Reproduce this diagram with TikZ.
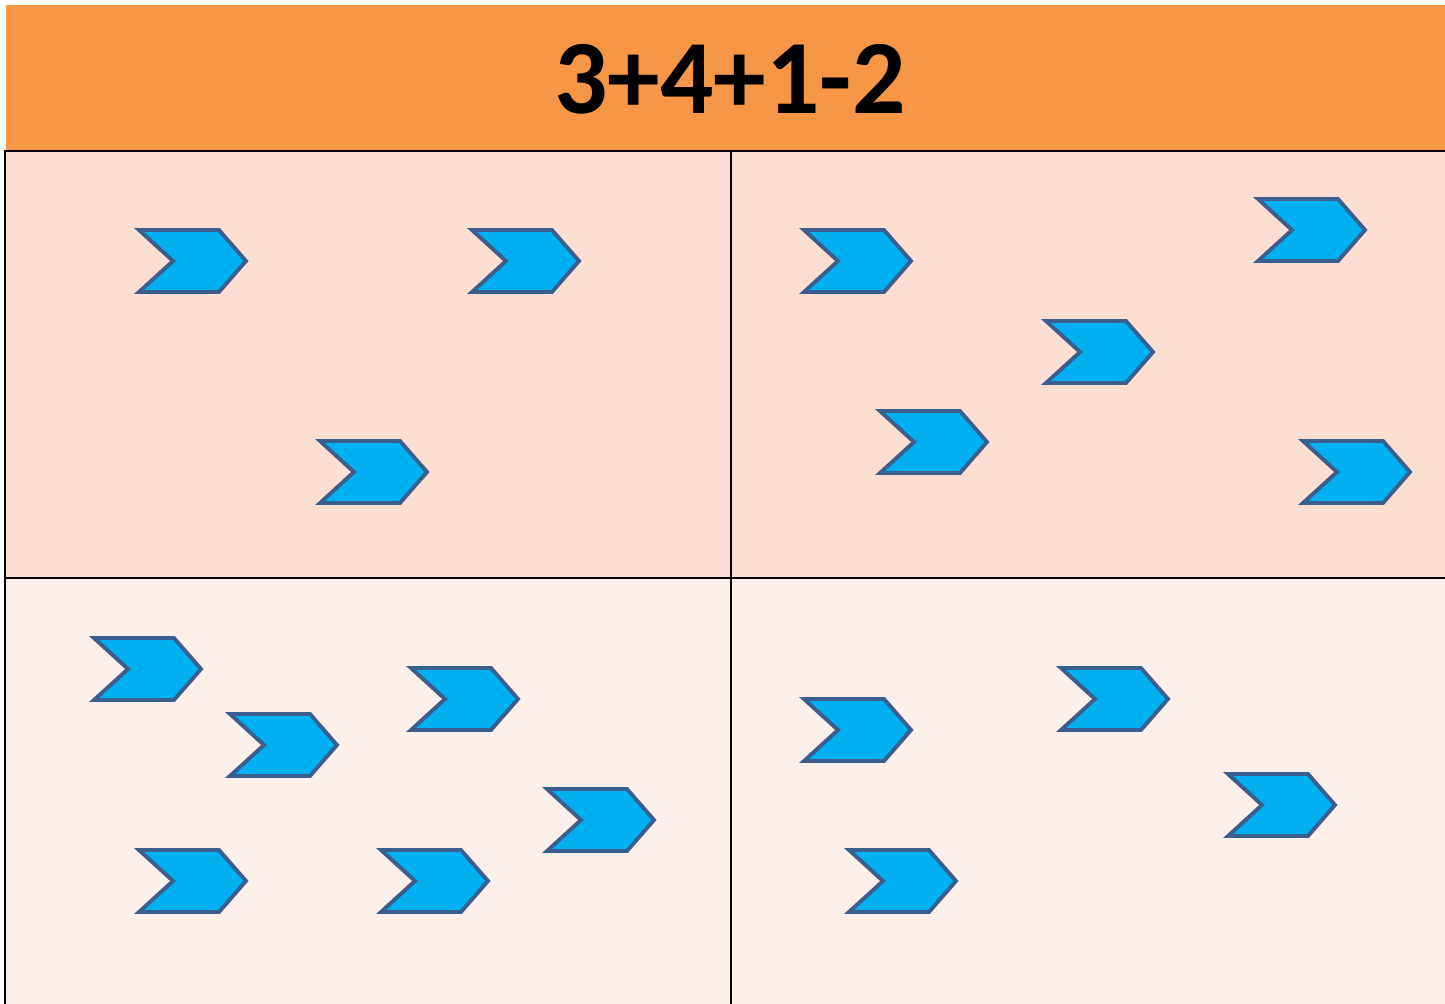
\documentclass[tikz,border=0pt]{standalone}
\usepackage{fontspec}
\setmainfont{Carlito}
\definecolor{kopf}{HTML}{F79646}
\definecolor{feldoben}{HTML}{FCDED2}
\definecolor{feldunten}{HTML}{FDF0EB}
\definecolor{pfeilblau}{HTML}{00B0F0}
\definecolor{pfeilrand}{HTML}{3A5F8F}
\tikzset{
  pfeil/.pic={
    \draw[pfeilrand, fill=pfeilblau, line width=2.2pt, line join=miter]
      (2,0) -- (82,0) -- (109,31) -- (82,62) -- (2,62) -- (36,31) -- cycle;
  },
  linie/.style={black, line width=1.7pt}
}
\begin{document}
\begin{tikzpicture}[x=0.02cm, y=-0.02cm]
			\useasboundingbox (0,0) rectangle (1445,1004);

			% Kopfzeile mit Aufgabe
			\fill[kopf] (6,5) rectangle (1445,150);
			\node[font=\bfseries\fontsize{60}{60}\selectfont] (aufgabe) at (730,79) {3+4+1-2};

			% Felder
			\fill[feldoben] (5,151) rectangle (1445,578);
			\fill[feldunten] (5,578) rectangle (1445,1004);

			% Gitterlinien
			\draw[linie] (5,1004) -- (5,151) -- (1445,151);
			\draw[linie] (5,578) -- (1445,578);
			\draw[linie] (731,151) -- (731,1004);

			% Feld oben links: 3
			\foreach \x/\y in {137/230, 470/230, 318/441}
				\pic at (\x,\y) {pfeil};

			% Feld oben rechts: 4 (+1)
			\foreach \x/\y in {802/230, 1256/199, 1044/321, 878/411, 1301/441}
				\pic at (\x,\y) {pfeil};

			% Feld unten links: 6
			\foreach \x/\y in {92/638, 228/714, 409/668, 545/789, 137/850, 379/850}
				\pic at (\x,\y) {pfeil};

			% Feld unten rechts: 4
			\foreach \x/\y in {802/699, 1059/668, 1226/774, 847/850}
				\pic at (\x,\y) {pfeil};
		\end{tikzpicture}
\end{document}
